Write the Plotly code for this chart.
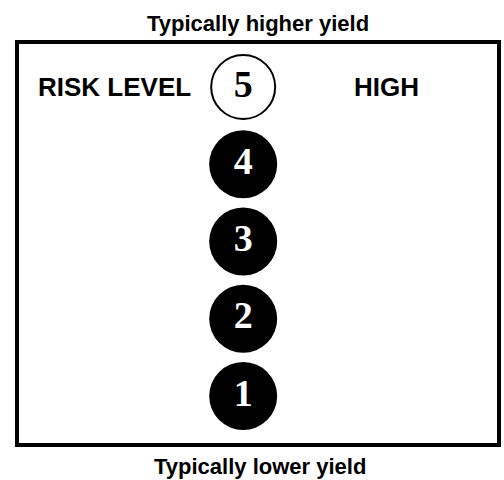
import plotly.graph_objects as go

levels = [1, 2, 3, 4, 5]
level_labels = ["1", "2", "3", "4", "5"]
highlighted = 5
top_label = "Typically higher yield"
bottom_label = "Typically lower yield"
left_label = "RISK LEVEL"
right_label = "HIGH"

sans = "Liberation Sans, Arial, sans-serif"
serif = "Liberation Serif, Times New Roman, serif"

fill = ["white" if l == highlighted else "black" for l in levels]
txtc = ["black" if l == highlighted else "white" for l in levels]
sizes = [64 if l == highlighted else 68 for l in levels]
lw = [2 if l == highlighted else 0 for l in levels]

fig = go.Figure()
fig.add_trace(go.Scatter(
    x=[0] * len(levels), y=levels, mode="markers+text",
    text=level_labels, textposition="middle center",
    textfont=dict(family=serif, size=38, color=txtc, weight="bold"),
    marker=dict(size=sizes, color=fill, opacity=1,
                line=dict(color="black", width=lw)),
    opacity=1,
    hoverinfo="skip", showlegend=False,
))

fig.update_layout(
    width=504, height=480,
    margin=dict(l=19, r=3, t=44, b=37),
    paper_bgcolor="white", plot_bgcolor="white",
    xaxis=dict(range=[-0.938, 1.062], showgrid=False, zeroline=False,
               showticklabels=False, ticks="", showline=True, mirror=True,
               linecolor="black", linewidth=3.5, fixedrange=True),
    yaxis=dict(range=[0.392, 5.557], showgrid=False, zeroline=False,
               showticklabels=False, ticks="", showline=True, mirror=True,
               linecolor="black", linewidth=3.5, fixedrange=True),
    annotations=[
        dict(text=f"<b>{top_label}</b>", xref="paper", yref="paper",
             x=0.5, y=1.051, xanchor="center", yanchor="middle", showarrow=False,
             font=dict(family=sans, size=22, color="black")),
        dict(text=f"<b>{bottom_label}</b>", xref="paper", yref="paper",
             x=0.505, y=-0.058, xanchor="center", yanchor="middle", showarrow=False,
             font=dict(family=sans, size=22, color="black")),
        dict(text=f"<b>{left_label}</b>", xref="paper", yref="y",
             x=0.199, y=highlighted, xanchor="center", yanchor="middle", showarrow=False,
             font=dict(family=sans, size=26, color="black")),
        dict(text=f"<b>{right_label}</b>", xref="paper", yref="y",
             x=0.768, y=highlighted, xanchor="center", yanchor="middle", showarrow=False,
             font=dict(family=sans, size=26, color="black")),
    ],
)

fig.write_html("out.html", config={"displayModeBar": False},
               post_script="document.body.style.margin='0';document.body.style.overflow='hidden';")
